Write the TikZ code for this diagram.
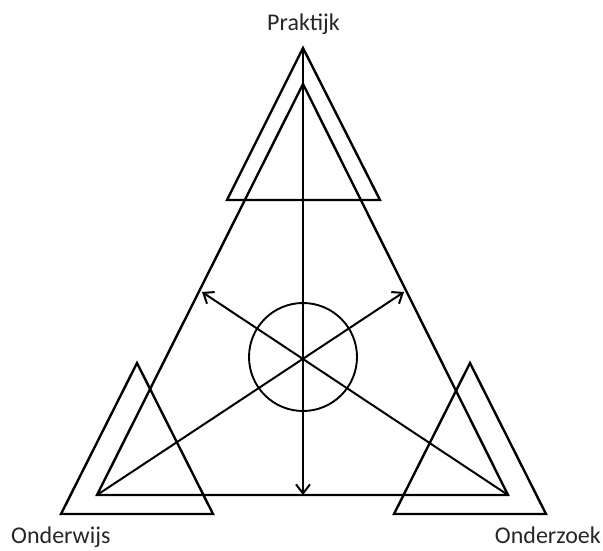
\documentclass[tikz,border=0pt]{standalone}
\usepackage{fontspec}
\setmainfont{Carlito}
\usetikzlibrary{arrows.meta}
\tikzset{
  tri/.style={draw=black, line width=2.4pt, line join=miter},
  arr/.style={draw=black, line width=2pt, -{Straight Barb[length=9pt,width=14pt,line width=2pt]}},
  ring/.style={draw=black, line width=1.9pt},
  lbl/.style={font=\fontsize{24}{28}\selectfont, inner sep=0pt, text=black!85}
}
\begin{document}
\begin{tikzpicture}[x=1pt,y=-1pt]
\useasboundingbox (0,0) rectangle (603,550);
% big triangle
\coordinate (A) at (303,84);
\coordinate (B) at (97,495);
\coordinate (C) at (508,495);
\coordinate (O) at (303,357);
% small triangles
\coordinate (TA) at (303,48);
\coordinate (TB) at (227,200);
\coordinate (TC) at (380,200);
\coordinate (LA) at (137,363);
\coordinate (LB) at (61,514);
\coordinate (LC) at (213,514);
\coordinate (RA) at (470,363);
\coordinate (RB) at (394,514);
\coordinate (RC) at (546,514);
% arrow ends
\coordinate (EL) at (202,292);
\coordinate (ER) at (404,292);
\coordinate (EB) at (303,495);

\draw[tri] (A) -- (B) -- (C) -- cycle;
\draw[tri] (TA) -- (TB) -- (TC) -- cycle;
\draw[tri] (LA) -- (LB) -- (LC) -- cycle;
\draw[tri] (RA) -- (RB) -- (RC) -- cycle;

\draw[ring] (O) circle[radius=54];

\draw[arr] (TA) -- (EB);
\draw[arr] (B) -- (ER);
\draw[arr] (C) -- (EL);

\node[lbl, anchor=base] (prak) at (303.5,30) {Praktijk};
\node[lbl, anchor=base west] (onderw) at (11,543) {Onderwijs};
\node[lbl, anchor=base east] (onderz) at (601,543) {Onderzoek};
\end{tikzpicture}
\end{document}
